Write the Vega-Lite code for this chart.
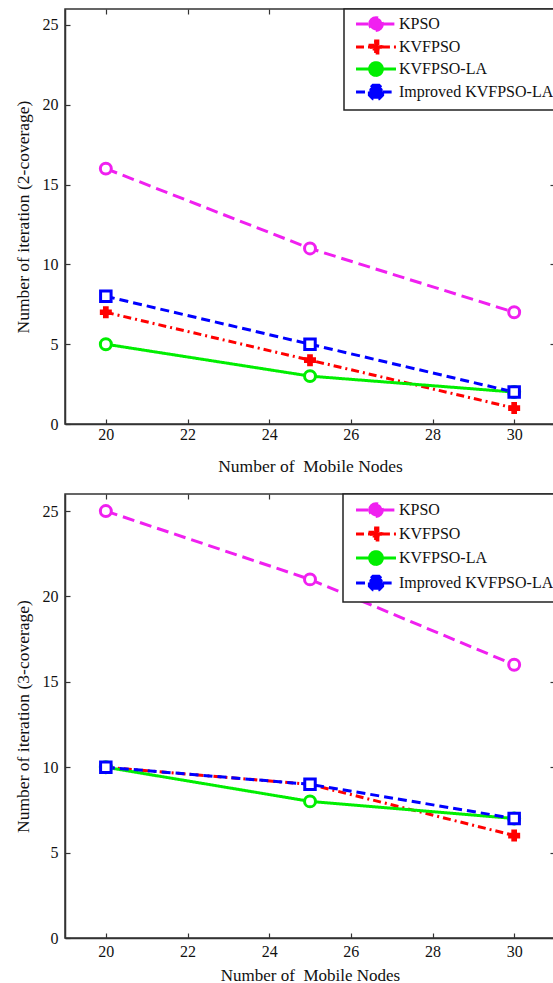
{
  "$schema": "https://vega.github.io/schema/vega-lite/v6.json",
  "padding": {"left": 13, "top": 7, "right": 0, "bottom": 0},
  "spacing": 16,
  "resolve": {"scale": {"color": "independent", "strokeDash": "independent"}, "legend": {"color": "independent", "strokeDash": "independent"}},
  "datasets": {
    "cov2": [
      {"nodes": 20, "series": "KPSO", "iter": 16},
      {"nodes": 25, "series": "KPSO", "iter": 11},
      {"nodes": 30, "series": "KPSO", "iter": 7},
      {"nodes": 20, "series": "KVFPSO", "iter": 7},
      {"nodes": 25, "series": "KVFPSO", "iter": 4},
      {"nodes": 30, "series": "KVFPSO", "iter": 1},
      {"nodes": 20, "series": "KVFPSO-LA", "iter": 5},
      {"nodes": 25, "series": "KVFPSO-LA", "iter": 3},
      {"nodes": 30, "series": "KVFPSO-LA", "iter": 2},
      {"nodes": 20, "series": "Improved KVFPSO-LA", "iter": 8},
      {"nodes": 25, "series": "Improved KVFPSO-LA", "iter": 5},
      {"nodes": 30, "series": "Improved KVFPSO-LA", "iter": 2}
    ],
    "cov3": [
      {"nodes": 20, "series": "KPSO", "iter": 25},
      {"nodes": 25, "series": "KPSO", "iter": 21},
      {"nodes": 30, "series": "KPSO", "iter": 16},
      {"nodes": 20, "series": "KVFPSO", "iter": 10},
      {"nodes": 25, "series": "KVFPSO", "iter": 9},
      {"nodes": 30, "series": "KVFPSO", "iter": 6},
      {"nodes": 20, "series": "KVFPSO-LA", "iter": 10},
      {"nodes": 25, "series": "KVFPSO-LA", "iter": 8},
      {"nodes": 30, "series": "KVFPSO-LA", "iter": 7},
      {"nodes": 20, "series": "Improved KVFPSO-LA", "iter": 10},
      {"nodes": 25, "series": "Improved KVFPSO-LA", "iter": 9},
      {"nodes": 30, "series": "Improved KVFPSO-LA", "iter": 7}
    ]
  },
  "config": {
    "view": {"stroke": "#333", "strokeWidth": 1.5},
    "axis": {
      "labelFont": "Liberation Serif", "titleFont": "Liberation Serif",
      "labelFontSize": 16, "titleFontSize": 17.5, "titleFontWeight": "normal",
      "labelColor": "#111", "titleColor": "#111",
      "domainColor": "#333", "domainWidth": 1.5, "tickColor": "#333", "tickWidth": 1.2,
      "tickSize": -5, "grid": false
    },
    "legend": {
      "labelFont": "Liberation Serif", "labelFontSize": 16, "labelColor": "#111", "labelLimit": 0
    },
    "point": {"filled": false, "strokeWidth": 3, "size": 120, "opacity": 1}
  },
  "vconcat": [
    {
      "width": 490, "height": 415,
      "data": {"name": "cov2"},
      "resolve": {"axis": {"x": "independent", "y": "independent"}},
      "layer": [
        {
          "mark": {"type": "line", "strokeWidth": 3},
          "encoding": {
            "x": {"field": "nodes", "type": "quantitative", "scale": {"domain": [19, 31], "nice": false, "zero": false},
                  "axis": {"values": [20, 22, 24, 26, 28, 30], "title": "Number of \u00a0Mobile Nodes", "labelPadding": 7, "titlePadding": 15}},
            "y": {"field": "iter", "type": "quantitative", "scale": {"domain": [0, 26], "nice": false},
                  "axis": {"values": [0, 5, 10, 15, 20, 25], "title": "Number of iteration (2-coverage)", "labelPadding": 12, "titlePadding": 10}},
            "color": {"field": "series", "type": "nominal",
                      "scale": {"domain": ["KPSO", "KVFPSO", "KVFPSO-LA", "Improved KVFPSO-LA"], "range": ["#f020f0", "#ff0000", "#00ee00", "#0000ff"]},
                      "legend": {"title": null, "orient": "none", "legendX": 279, "legendY": 0, "fillColor": "white", "strokeColor": "#222", "padding": 5, "rowPadding": -3, "symbolSize": 289, "symbolStrokeWidth": 3, "symbolOpacity": 1, "symbolOffset": 17, "labelOffset": 13,
                                 "symbolType": "M-2.35,0H-0.75M0.75,0H2.35M-0.75,0A0.75,0.75,0,1,1,0.75,0A0.75,0.75,0,1,1,-0.75,0Z",
                                 "encode": {"symbols": {"update": {"fill": {"signal": "datum.value === 'KPSO' ? '#f020f0' : datum.value === 'KVFPSO' ? '#ff0000' : datum.value === 'KVFPSO-LA' ? '#00ee00' : '#0000ff'"}, "shape": {"signal": "datum.value === 'KVFPSO' ? 'M-2.35,0H-0.7M0.7,0H2.35M-0.22,-0.7H0.22V-0.22H0.7V0.22H0.22V0.7H-0.22V0.22H-0.7V-0.22H-0.22Z' : datum.value === 'Improved KVFPSO-LA' ? 'M-2.35,0H-0.78M0.78,0H2.35M-0.36,-0.78H0.36L0.78,-0.36V0.36L0.36,0.78H-0.36L-0.78,0.36V-0.36Z' : 'M-2.35,0H-0.75M0.75,0H2.35M-0.75,0A0.75,0.75,0,1,1,0.75,0A0.75,0.75,0,1,1,-0.75,0Z'"}}}, "legend": {"update": {"strokeWidth": {"value": 1.5}}}}}},
            "strokeDash": {"field": "series", "type": "nominal",
                           "scale": {"domain": ["KPSO", "KVFPSO", "KVFPSO-LA", "Improved KVFPSO-LA"], "range": [[12, 6], [8, 4, 2, 4], [1, 0], [9, 5]]}}
          }
        },
        {
          "transform": [{"filter": "datum.series === 'KPSO'"}],
          "mark": {"type": "point", "shape": "circle", "stroke": "#f020f0", "fill": "#ffffff"},
          "encoding": {
            "x": {"field": "nodes", "type": "quantitative", "scale": {"domain": [19, 31], "nice": false, "zero": false},
                  "axis": {"orient": "top", "values": [20, 22, 24, 26, 28, 30], "labels": false, "title": null, "domain": false}},
            "y": {"field": "iter", "type": "quantitative", "scale": {"domain": [0, 26], "nice": false},
                  "axis": {"orient": "right", "values": [0, 5, 10, 15, 20, 25], "labels": false, "title": null, "domain": false}}
          }
        },
        {
          "transform": [{"filter": "datum.series === 'KVFPSO'"}],
          "mark": {"type": "point", "shape": "cross", "stroke": "#ff0000", "fill": "#ff0000", "size": 110, "strokeWidth": 1.5},
          "encoding": {
            "x": {"field": "nodes", "type": "quantitative", "axis": null},
            "y": {"field": "iter", "type": "quantitative", "axis": null}
          }
        },
        {
          "transform": [{"filter": "datum.series === 'KVFPSO-LA'"}],
          "mark": {"type": "point", "shape": "circle", "stroke": "#00ee00", "fill": "#ffffff"},
          "encoding": {
            "x": {"field": "nodes", "type": "quantitative", "axis": null},
            "y": {"field": "iter", "type": "quantitative", "axis": null}
          }
        },
        {
          "transform": [{"filter": "datum.series === 'Improved KVFPSO-LA'"}],
          "mark": {"type": "point", "shape": "square", "stroke": "#0000ff", "fill": "#ffffff", "size": 110},
          "encoding": {
            "x": {"field": "nodes", "type": "quantitative", "axis": null},
            "y": {"field": "iter", "type": "quantitative", "axis": null}
          }
        }
      ]
    },
    {
      "width": 490, "height": 444,
      "data": {"name": "cov3"},
      "resolve": {"axis": {"x": "independent", "y": "independent"}},
      "layer": [
        {
          "mark": {"type": "line", "strokeWidth": 3},
          "encoding": {
            "x": {"field": "nodes", "type": "quantitative", "scale": {"domain": [19, 31], "nice": false, "zero": false},
                  "axis": {"values": [20, 22, 24, 26, 28, 30], "title": "Number of \u00a0Mobile Nodes", "titleFontSize": 17, "labelPadding": 10, "titlePadding": 8}},
            "y": {"field": "iter", "type": "quantitative", "scale": {"domain": [0, 26], "nice": false},
                  "axis": {"values": [0, 5, 10, 15, 20, 25], "title": "Number of iteration (3-coverage)", "labelPadding": 12, "titlePadding": 10}},
            "color": {"field": "series", "type": "nominal",
                      "scale": {"domain": ["KPSO", "KVFPSO", "KVFPSO-LA", "Improved KVFPSO-LA"], "range": ["#f020f0", "#ff0000", "#00ee00", "#0000ff"]},
                      "legend": {"title": null, "orient": "none", "legendX": 278, "legendY": 0, "fillColor": "white", "strokeColor": "#222", "padding": 6, "rowPadding": -1, "symbolSize": 289, "symbolStrokeWidth": 3, "symbolOpacity": 1, "symbolOffset": 17, "labelOffset": 13,
                                 "symbolType": "M-2.35,0H-0.75M0.75,0H2.35M-0.75,0A0.75,0.75,0,1,1,0.75,0A0.75,0.75,0,1,1,-0.75,0Z",
                                 "encode": {"symbols": {"update": {"fill": {"signal": "datum.value === 'KPSO' ? '#f020f0' : datum.value === 'KVFPSO' ? '#ff0000' : datum.value === 'KVFPSO-LA' ? '#00ee00' : '#0000ff'"}, "shape": {"signal": "datum.value === 'KVFPSO' ? 'M-2.35,0H-0.7M0.7,0H2.35M-0.22,-0.7H0.22V-0.22H0.7V0.22H0.22V0.7H-0.22V0.22H-0.7V-0.22H-0.22Z' : datum.value === 'Improved KVFPSO-LA' ? 'M-2.35,0H-0.78M0.78,0H2.35M-0.36,-0.78H0.36L0.78,-0.36V0.36L0.36,0.78H-0.36L-0.78,0.36V-0.36Z' : 'M-2.35,0H-0.75M0.75,0H2.35M-0.75,0A0.75,0.75,0,1,1,0.75,0A0.75,0.75,0,1,1,-0.75,0Z'"}}}, "legend": {"update": {"strokeWidth": {"value": 1.5}}}}}},
            "strokeDash": {"field": "series", "type": "nominal",
                           "scale": {"domain": ["KPSO", "KVFPSO", "KVFPSO-LA", "Improved KVFPSO-LA"], "range": [[12, 6], [8, 4, 2, 4], [1, 0], [9, 5]]}}
          }
        },
        {
          "transform": [{"filter": "datum.series === 'KPSO'"}],
          "mark": {"type": "point", "shape": "circle", "stroke": "#f020f0", "fill": "#ffffff"},
          "encoding": {
            "x": {"field": "nodes", "type": "quantitative", "scale": {"domain": [19, 31], "nice": false, "zero": false},
                  "axis": {"orient": "top", "values": [20, 22, 24, 26, 28, 30], "labels": false, "title": null, "domain": false}},
            "y": {"field": "iter", "type": "quantitative", "scale": {"domain": [0, 26], "nice": false},
                  "axis": {"orient": "right", "values": [0, 5, 10, 15, 20, 25], "labels": false, "title": null, "domain": false}}
          }
        },
        {
          "transform": [{"filter": "datum.series === 'KVFPSO'"}],
          "mark": {"type": "point", "shape": "cross", "stroke": "#ff0000", "fill": "#ff0000", "size": 110, "strokeWidth": 1.5},
          "encoding": {
            "x": {"field": "nodes", "type": "quantitative", "axis": null},
            "y": {"field": "iter", "type": "quantitative", "axis": null}
          }
        },
        {
          "transform": [{"filter": "datum.series === 'KVFPSO-LA'"}],
          "mark": {"type": "point", "shape": "circle", "stroke": "#00ee00", "fill": "#ffffff"},
          "encoding": {
            "x": {"field": "nodes", "type": "quantitative", "axis": null},
            "y": {"field": "iter", "type": "quantitative", "axis": null}
          }
        },
        {
          "transform": [{"filter": "datum.series === 'Improved KVFPSO-LA'"}],
          "mark": {"type": "point", "shape": "square", "stroke": "#0000ff", "fill": "#ffffff", "size": 110},
          "encoding": {
            "x": {"field": "nodes", "type": "quantitative", "axis": null},
            "y": {"field": "iter", "type": "quantitative", "axis": null}
          }
        }
      ]
    }
  ]
}
